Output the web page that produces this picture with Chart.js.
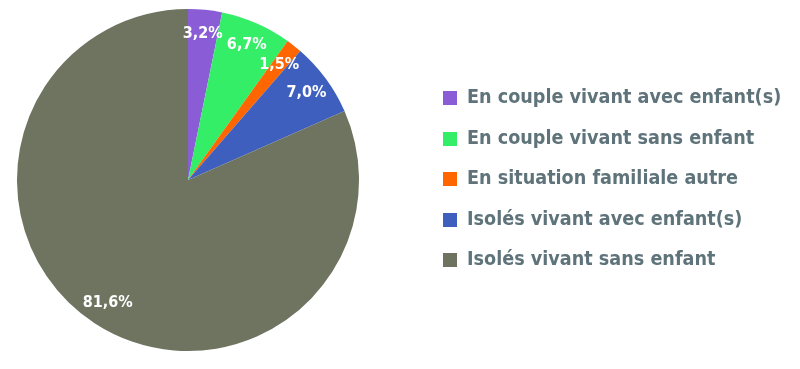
<!DOCTYPE html>
<html>
<head>
<meta charset="utf-8">
<script src="https://cdn.jsdelivr.net/npm/chart.js@4"></script>
<style>
  body { margin: 0; background: #fff; }
  #wrap { position: relative; width: 800px; height: 369px; }
  #legend { position: absolute; left: 443px; top: 85px; margin: 0; padding: 0; list-style: none;
    font-family: 'DejaVu Sans Condensed', 'DejaVu Sans', sans-serif; font-weight: bold; font-size: 19.6px; color: #5f737a; }
  #legend li { height: 40.5px; display: flex; align-items: flex-start; white-space: nowrap; }
  #legend span.box { width: 14px; height: 14px; margin-right: 10px; margin-top: 6px; flex: none; }
</style>
</head>
<body>
<div id="wrap">
  <canvas id="chart" width="800" height="369"></canvas>
  <ul id="legend"></ul>
</div>
<script>
const labels = [
  'En couple vivant avec enfant(s)',
  'En couple vivant sans enfant',
  'En situation familiale autre',
  'Isolés vivant avec enfant(s)',
  'Isolés vivant sans enfant'
];
const values = [3.2, 6.7, 1.5, 7.0, 81.6];
const colors = ['#8a5cd6', '#33ee66', '#ff6600', '#3f5fbf', '#6e7460'];

// slice labels drawn inside the pie, near the edge
const sliceLabels = {
  id: 'sliceLabels',
  afterDatasetsDraw(chart) {
    const ctx = chart.ctx;
    const meta = chart.getDatasetMeta(0);
    ctx.save();
    ctx.fillStyle = '#ffffff';
    ctx.font = "bold 16px 'DejaVu Sans Condensed', 'DejaVu Sans', sans-serif";
    ctx.textAlign = 'center';
    ctx.textBaseline = 'middle';
    meta.data.forEach((arc, i) => {
      const p = arc.getProps(['x', 'y', 'startAngle', 'endAngle', 'outerRadius']);
      const mid = (p.startAngle + p.endAngle) / 2;
      const r = p.outerRadius * 0.86;
      const txt = values[i].toFixed(1).replace('.', ',') + '%';
      ctx.fillText(txt, p.x + Math.cos(mid) * r, p.y + Math.sin(mid) * r);
    });
    ctx.restore();
  }
};

new Chart(document.getElementById('chart'), {
  type: 'pie',
  data: {
    labels: labels,
    datasets: [{
      data: values,
      backgroundColor: colors,
      borderWidth: 0
    }]
  },
  options: {
    responsive: false,
    animation: false,
    layout: { padding: { left: 17, right: 441, top: 9, bottom: 18 } },
    plugins: {
      legend: { display: false },
      tooltip: { enabled: false }
    }
  },
  plugins: [sliceLabels]
});

const ul = document.getElementById('legend');
labels.forEach((l, i) => {
  const li = document.createElement('li');
  li.innerHTML = '<span class="box" style="background:' + colors[i] + '"></span>' + l;
  ul.appendChild(li);
});
</script>
</body>
</html>
